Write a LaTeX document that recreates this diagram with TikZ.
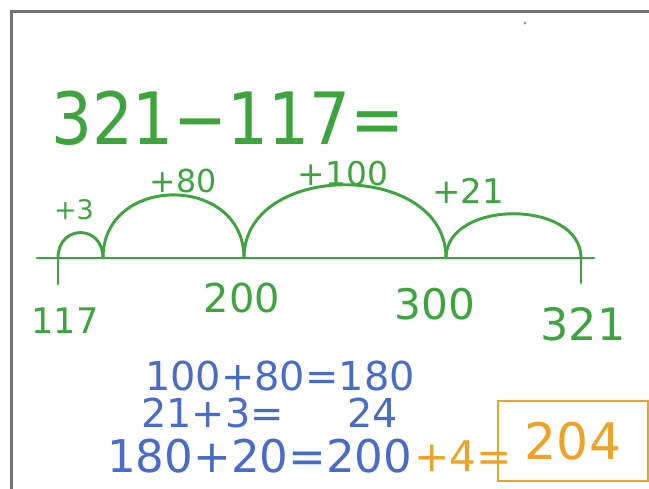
\documentclass[tikz,border=0pt]{standalone}
\usepackage{fontspec}
\setmainfont{DejaVu Sans}
\usetikzlibrary{positioning}
\definecolor{penGreen}{RGB}{62,165,62}
\definecolor{penBlue}{RGB}{72,108,200}
\definecolor{penOrange}{RGB}{240,162,40}
\definecolor{frameGray}{RGB}{115,115,115}
\newcommand{\fs}[1]{\fontsize{#1}{#1}\selectfont}
\tikzset{
  jump/.style={penGreen, line width=2.5pt, line cap=round},
  greentext/.style={penGreen, inner sep=0pt},
  bluetext/.style={penBlue, inner sep=0pt},
}

\begin{document}
\begin{tikzpicture}[x=0.03cm, y=0.03cm]
    \useasboundingbox (0,0) rectangle (649,-489);

    % frame of the board
    \draw[frameGray, line width=2.8pt] (649,-11.5) -- (11.5,-11.5) -- (11.5,-489);
    \fill[gray!70] (525,-23) circle (1.6);

    % the task
    \node[greentext, font=\fs{55}] (task) at (228,-118) {\scalebox{1}[1.12]{321−117=}};

    % number line
    \coordinate (lineL) at (37,-258);
    \coordinate (lineR) at (594,-258);
    \coordinate (p117) at (58,-258);
    \coordinate (p120) at (103,-258);
    \coordinate (p200) at (244,-258);
    \coordinate (p300) at (446,-258);
    \coordinate (p321) at (581,-258);
    \coordinate (t117) at (58,-284);
    \coordinate (t321) at (581,-283);
    \draw[jump] (lineL) -- (lineR);
    \draw[jump] (p117) -- (t117);
    \draw[jump] (p321) -- (t321);

    % jumps
    \draw[jump] (p117) to[out=90, in=90, looseness=1.93] (p120);
    \draw[jump] (p120) to[out=90, in=90, looseness=1.53] (p200);
    \draw[jump] (p200) to[out=90, in=90, looseness=1.24] (p300);
    \draw[jump] (p300) to[out=90, in=90, looseness=1.12] (p321);

    \node[greentext, font=\fs{23}] (j3) at (74,-210) {+3};
    \node[greentext, font=\fs{27}] (j80) at (183,-181) {+80};
    \node[greentext, font=\fs{28}] (j100) at (343,-174) {+100};
    \node[greentext, font=\fs{29}] (j21) at (468,-191) {+21};

    \node[greentext, font=\fs{30}] (n117) at (65,-321) {117};
    \node[greentext, font=\fs{34}] (n200) at (242,-298) {200};
    \node[greentext, font=\fs{36}] (n300) at (435,-304) {300};
    \node[greentext, font=\fs{38}] (n321) at (583,-324) {321};

    % working out
    \node[bluetext, font=\fs{34}] (eq1) at (280,-376) {100+80=180};
    \node[bluetext, font=\fs{34}, anchor=west] (eq2) at (141,-413) {21+3=\hspace{54pt}24};
    \node[bluetext, font=\fs{38.5}, anchor=west] (eq3) at (107,-456) {180+20=200};
    \node[penOrange, inner sep=0pt, font=\fs{36}, right=1pt of eq3] (plus4) {+4=};
    \node[penOrange, draw, line width=2pt, font=\fs{43}, minimum width=128pt,
          minimum height=68pt] (res) at (573,-441) {204};
\end{tikzpicture}
\end{document}
